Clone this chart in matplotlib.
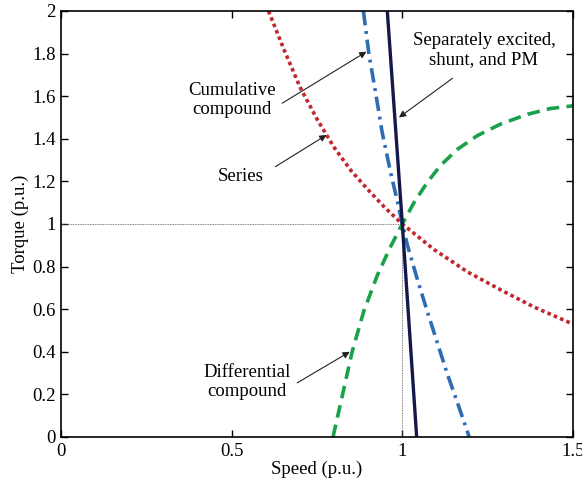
import matplotlib
matplotlib.use("Agg")
import matplotlib.pyplot as plt

# speed / torque points (p.u.)
series_speed = [0.608, 0.653, 0.701, 0.751, 0.80, 0.85, 0.90, 0.95, 1.0, 1.093, 1.191, 1.289, 1.386, 1.5]
series_torque = [2.0, 1.82, 1.64, 1.49, 1.36, 1.25, 1.16, 1.075, 1.0, 0.88, 0.775, 0.69, 0.61, 0.53]

cumul_speed = [0.886, 0.902, 0.922, 0.941, 0.966, 0.985, 1.0, 1.015, 1.044, 1.073, 1.103, 1.132, 1.165, 1.196]
cumul_torque = [2.0, 1.80, 1.614, 1.43, 1.24, 1.11, 1.0, 0.90, 0.74, 0.59, 0.44, 0.295, 0.145, 0.0]

sep_speed = [0.956, 1.0, 1.042]
sep_torque = [2.0, 1.0, 0.0]

diff_speed = [0.797, 0.853, 0.887, 0.927, 0.966, 1.0, 1.034, 1.073, 1.112, 1.161, 1.22, 1.289, 1.367, 1.434, 1.5]
diff_torque = [0.0, 0.40, 0.59, 0.76, 0.895, 1.0, 1.10, 1.195, 1.275, 1.35, 1.415, 1.47, 1.515, 1.542, 1.555]

xticks = [0, 0.5, 1, 1.5]
xtick_labels = ["0", "0.5", "1", "1.5"]
yticks = [0, 0.2, 0.4, 0.6, 0.8, 1, 1.2, 1.4, 1.6, 1.8, 2]
ytick_labels = ["0", "0.2", "0.4", "0.6", "0.8", "1", "1.2", "1.4", "1.6", "1.8", "2"]

plt.rcParams["font.family"] = ["Liberation Serif", "DejaVu Serif"]
plt.rcParams["font.size"] = 13.5

fig = plt.figure(figsize=(5.82, 4.78), dpi=100)
ax = fig.add_axes([0.1048, 0.0858, 0.8797, 0.8912])

# rated point guide lines
ax.plot([0, 1], [1, 1], color="#555555", lw=0.6, linestyle=(0, (1, 1)))
ax.plot([1, 1], [0, 1], color="#555555", lw=0.6, linestyle=(0, (1, 1)))

ax.plot(series_speed, series_torque, color="#c1272d", lw=2.6, linestyle=(0, (1, 0.9)))
ax.plot(diff_speed, diff_torque, color="#19a24a", lw=2.6, linestyle=(0, (3.5, 2)))
ax.plot(cumul_speed, cumul_torque, color="#2e6db4", lw=2.6, linestyle=(0, (4, 1.6, 0.8, 1.6)))
ax.plot(sep_speed, sep_torque, color="#14184a", lw=2.4)

arrow = dict(arrowstyle="-|>", color="#222222", lw=0.8, mutation_scale=10, shrinkA=0, shrinkB=0)
ax.annotate("", xy=(0.895, 1.809), xytext=(0.648, 1.567), arrowprops=arrow)
ax.annotate("", xy=(0.778, 1.418), xytext=(0.628, 1.269), arrowprops=arrow)
ax.annotate("", xy=(0.99, 1.50), xytext=(1.147, 1.684), arrowprops=arrow)
ax.annotate("", xy=(0.846, 0.40), xytext=(0.692, 0.254), arrowprops=arrow)

ax.text(0.502, 1.58, "Cumulative\ncompound", ha="center", va="center", linespacing=1.15)
ax.text(0.525, 1.222, "Series", ha="center", va="center")
ax.text(1.239, 1.817, "Separately excited,\nshunt, and PM", ha="center", va="center", linespacing=1.15)
ax.text(0.545, 0.258, "Differential\ncompound", ha="center", va="center", linespacing=1.15)

ax.set_xlim(0, 1.5)
ax.set_ylim(0, 2)
ax.set_xticks(xticks)
ax.set_xticklabels(xtick_labels)
ax.set_yticks(yticks)
ax.set_yticklabels(ytick_labels)
ax.tick_params(direction="in", top=True, right=True, length=5, width=1, pad=4)
for s in ax.spines.values():
    s.set_linewidth(1.2)

ax.set_xlabel("Speed (p.u.)", labelpad=1)
ax.set_ylabel("Torque (p.u.)", labelpad=2)

fig.savefig("out.png", dpi=100)
